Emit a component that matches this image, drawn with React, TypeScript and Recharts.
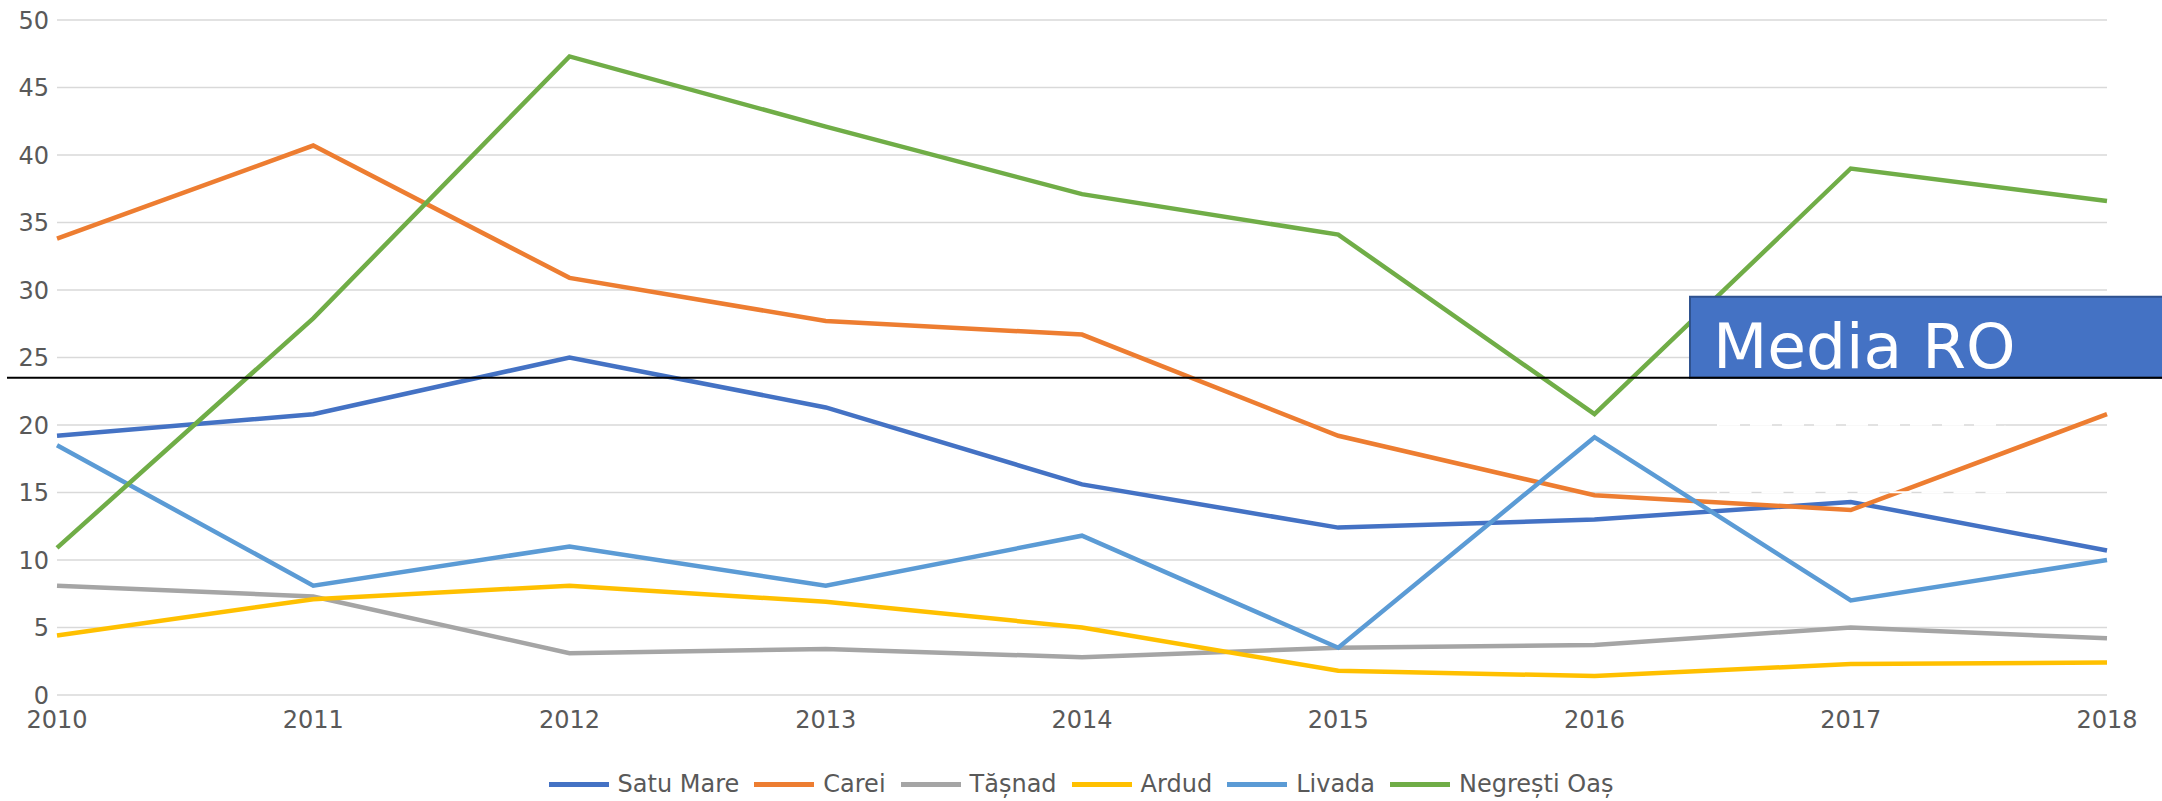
import React from 'react';
import { LineChart, Line, XAxis, YAxis, CartesianGrid, Legend, ReferenceLine } from 'recharts';

const years = ['2010', '2011', '2012', '2013', '2014', '2015', '2016', '2017', '2018'];
const satuMare = [19.2, 20.8, 25.0, 21.3, 15.6, 12.4, 13.0, 14.3, 10.7];
const carei = [33.8, 40.7, 30.9, 27.7, 26.7, 19.2, 14.8, 13.7, 20.8];
const tasnad = [8.1, 7.3, 3.1, 3.4, 2.8, 3.5, 3.7, 5.0, 4.2];
const ardud = [4.4, 7.1, 8.1, 6.9, 5.0, 1.8, 1.4, 2.3, 2.4];
const livada = [18.5, 8.1, 11.0, 8.1, 11.8, 3.5, 19.1, 7.0, 10.0];
const negresti = [10.9, 27.9, 47.3, 42.1, 37.1, 34.1, 20.8, 39.0, 36.6];
const yTicks = [0, 5, 10, 15, 20, 25, 30, 35, 40, 45, 50];
const mediaRO = 23.5;

const SERIES = [
  { key: 'satuMare', name: 'Satu Mare', color: '#4472C4', values: satuMare },
  { key: 'carei', name: 'Carei', color: '#ED7D31', values: carei },
  { key: 'tasnad', name: 'Tășnad', color: '#A5A5A5', values: tasnad },
  { key: 'ardud', name: 'Ardud', color: '#FFC000', values: ardud },
  { key: 'livada', name: 'Livada', color: '#5B9BD5', values: livada },
  { key: 'negresti', name: 'Negrești Oaș', color: '#70AD47', values: negresti },
];

const data = years.map((year, i) => {
  const row: Record<string, string | number> = { year };
  SERIES.forEach((s) => {
    row[s.key] = s.values[i];
  });
  return row;
});

const FONT = '"DejaVu Sans", sans-serif';

const renderLegend = () => (
  <div
    style={{
      display: 'flex',
      justifyContent: 'center',
      alignItems: 'center',
      fontSize: 24,
      lineHeight: '32px',
      color: '#595959',
      fontFamily: FONT,
    }}
  >
    {SERIES.map((s, i) => (
      <div key={s.key} style={{ display: 'flex', alignItems: 'center', marginRight: i < SERIES.length - 1 ? 15 : 0 }}>
        <span style={{ display: 'inline-block', width: 60, height: 5, background: s.color, marginRight: 9 }} />
        <span>{s.name}</span>
      </div>
    ))}
  </div>
);

const MediaShape = (props: any) => {
  const y = props.y1;
  return (
    <g>
      <rect x={1690} y={y - 81} width={480} height={81} fill="#4472C4" stroke="#2F528F" strokeWidth={2} />
      <text x={1713} y={y - 10} fill="#FFFFFF" fontSize={63} fontFamily={FONT}>
        Media RO
      </text>
      <line x1={7} x2={2162} y1={y} y2={y} stroke="#000000" strokeWidth={2} />
      <rect
        x={1718}
        y={y + 47}
        width={287}
        height={67.5}
        fill="none"
        stroke="#FFFFFF"
        strokeWidth={2}
        strokeDasharray="22 10"
      />
    </g>
  );
};

export default function App() {
  return (
    <div style={{ position: 'absolute', left: 0, top: 0, width: 2162, height: 801, background: '#fff' }}>
      <LineChart
        width={2162}
        height={801}
        data={data}
        margin={{ top: 20, right: 55, left: 0, bottom: 66 }}
        style={{ fontFamily: FONT }}
      >
        <CartesianGrid vertical={false} stroke="#D9D9D9" strokeWidth={1.5} />
        <XAxis
          dataKey="year"
          height={40}
          axisLine={false}
          tickLine={false}
          tickMargin={10}
          tick={{ fill: '#595959', fontSize: 24, fontFamily: FONT }}
          interval={0}
        />
        <YAxis
          width={57}
          domain={[0, 50]}
          ticks={yTicks}
          axisLine={false}
          tickLine={false}
          tick={{ fill: '#595959', fontSize: 24, fontFamily: FONT }}
          interval={0}
        />
        {SERIES.map((s) => (
          <Line
            key={s.key}
            dataKey={s.key}
            name={s.name}
            stroke={s.color}
            strokeWidth={4.5}
            dot={false}
            activeDot={false}
            isAnimationActive={false}
          />
        ))}
        <ReferenceLine y={mediaRO} shape={MediaShape} ifOverflow="visible" />
        <Legend
          layout="horizontal"
          verticalAlign="middle"
          align="center"
          content={renderLegend}
          wrapperStyle={{ top: 768, left: 0, width: 2162 }}
        />
      </LineChart>
    </div>
  );
}
